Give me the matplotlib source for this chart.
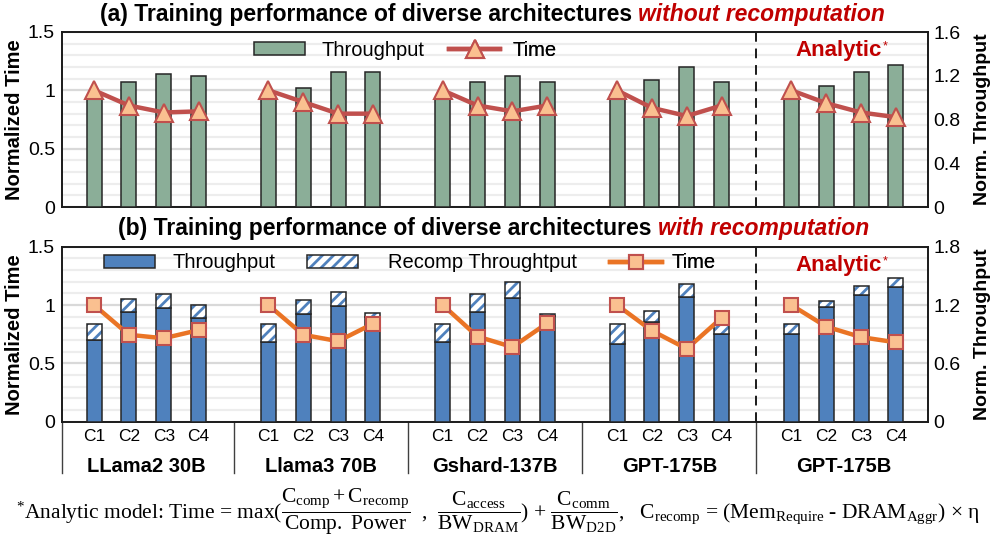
import matplotlib
matplotlib.use('Agg')
import matplotlib.pyplot as plt
import numpy as np
from matplotlib.patches import Patch
from matplotlib.lines import Line2D
from matplotlib.ticker import MultipleLocator, FixedLocator, FixedFormatter
import matplotlib.transforms as mtransforms

plt.rcParams['font.family'] = ['Liberation Sans', 'DejaVu Sans']
plt.rcParams['hatch.linewidth'] = 2.0
plt.rcParams['mathtext.fontset'] = 'custom'
plt.rcParams['mathtext.rm'] = 'Liberation Serif'
plt.rcParams['mathtext.it'] = 'Liberation Serif:italic'
plt.rcParams['mathtext.bf'] = 'Liberation Serif:bold'

# ---------------- data ----------------
models = ['LLama2 30B', 'Llama3 70B', 'Gshard-137B', 'GPT-175B', 'GPT-175B']
configs = ['C1', 'C2', 'C3', 'C4']

# (a) without recomputation
tp_a = [[1.00, 1.14, 1.22, 1.20],
        [1.00, 1.085, 1.23, 1.23],
        [1.00, 1.14, 1.20, 1.14],
        [1.02, 1.16, 1.28, 1.14],
        [1.00, 1.11, 1.23, 1.295]]
time_a = [[1.00, 0.87, 0.81, 0.82],
          [1.00, 0.90, 0.80, 0.80],
          [1.00, 0.87, 0.82, 0.87],
          [1.00, 0.85, 0.78, 0.87],
          [1.00, 0.89, 0.81, 0.77]]

# (b) with recomputation
tp_b = [[0.84, 1.13, 1.165, 1.07],
        [0.82, 1.105, 1.19, 1.074],
        [0.815, 1.13, 1.27, 1.085],
        [0.795, 1.03, 1.285, 0.90],
        [0.90, 1.175, 1.30, 1.39]]
recomp_b = [[0.16, 0.13, 0.15, 0.135],
            [0.18, 0.145, 0.14, 0.047],
            [0.185, 0.185, 0.17, 0.02],
            [0.205, 0.11, 0.135, 0.10],
            [0.10, 0.065, 0.095, 0.09]]
time_b = [[1.00, 0.745, 0.715, 0.785],
          [1.00, 0.745, 0.69, 0.84],
          [1.00, 0.73, 0.64, 0.845],
          [1.00, 0.78, 0.625, 0.89],
          [1.00, 0.815, 0.725, 0.68]]

left_ticks = [0, 0.5, 1, 1.5]
left_labels = ['0', '0.5', '1', '1.5']
right_ticks_a = [0, 0.4, 0.8, 1.2, 1.6]
right_labels_a = ['0', '0.4', '0.8', '1.2', '1.6']
right_ticks_b = [0, 0.6, 1.2, 1.8]
right_labels_b = ['0', '0.6', '1.2', '1.8']

# ---------------- style ----------------
GREEN = '#8BAE98'
BLUE = '#4F81BD'
EDGE = '#262626'
RED_LINE = '#C0504D'
ORANGE_LINE = '#EA7425'
MARK_FACE = '#FAC090'
TITLE_RED = '#C00000'
FS = 14

fig = plt.figure(figsize=(9.96, 5.38), dpi=100)
W, H = 996.0, 538.0
ax_left, ax_right = 62, 928
panels = [(32, 207), (246.7, 421.7)]

ngroups = len(models)
xs = [[g * 5 + c for c in range(len(configs))] for g in range(ngroups)]
xs_flat = np.array(xs).ravel()
xlim = (-0.92, 23.92)
bw = 0.43


def make_axes(top, bot):
    rect = [ax_left / W, 1 - bot / H, (ax_right - ax_left) / W, (bot - top) / H]
    ax_t = fig.add_axes(rect)
    ax_b = ax_t.twinx()
    ax_l = ax_t.twinx()
    for a in (ax_t, ax_b, ax_l):
        a.set_xlim(*xlim)
        a.tick_params(axis='both', length=0)
        a.set_xticks([])
    ax_t.set_ylim(0, 1.5)
    ax_l.set_ylim(0, 1.5)
    ax_t.yaxis.set_major_locator(FixedLocator(left_ticks))
    ax_t.yaxis.set_major_formatter(FixedFormatter(left_labels))
    ax_t.yaxis.set_minor_locator(MultipleLocator(0.1))
    ax_t.tick_params(axis='y', which='both', length=0, labelsize=FS, pad=5)
    ax_t.grid(True, axis='y', which='major', color='#D9D9D9', lw=1.6, zorder=0)
    ax_t.grid(True, axis='y', which='minor', color='#EDEDED', lw=1.6, zorder=0)
    ax_t.set_axisbelow(True)
    ax_l.set_yticks([])
    for s in ax_l.spines.values():
        s.set_visible(False)
    for s in ax_b.spines.values():
        s.set_visible(False)
    for s in ax_t.spines.values():
        s.set_color('#1a1a1a')
        s.set_linewidth(1.4)
    ax_b.tick_params(axis='y', length=0, labelsize=FS, pad=4)
    return ax_t, ax_b, ax_l


# ---------------- panel (a) ----------------
axa_t, axa_b, axa_l = make_axes(*panels[0])
axa_b.set_ylim(0, 1.6)
axa_b.yaxis.set_major_locator(FixedLocator(right_ticks_a))
axa_b.yaxis.set_major_formatter(FixedFormatter(right_labels_a))
axa_b.bar(xs_flat, np.array(tp_a).ravel(), width=bw, color=GREEN,
          edgecolor=EDGE, linewidth=1.1, zorder=2)
axa_b.axvline(19, color='#1a1a1a', lw=1.4, ls=(0, (5, 3.5)), zorder=3)
for g in range(ngroups):
    axa_l.plot(xs[g], time_a[g], color=RED_LINE, lw=3.2, marker='^', ms=13,
               mfc=MARK_FACE, mec=RED_LINE, mew=1.5, zorder=4, clip_on=False)

# ---------------- panel (b) ----------------
axb_t, axb_b, axb_l = make_axes(*panels[1])
axb_b.set_ylim(0, 1.8)
axb_b.yaxis.set_major_locator(FixedLocator(right_ticks_b))
axb_b.yaxis.set_major_formatter(FixedFormatter(right_labels_b))
tpb = np.array(tp_b).ravel()
rcb = np.array(recomp_b).ravel()
axb_b.bar(xs_flat, tpb, width=bw, color=BLUE, edgecolor=EDGE, linewidth=1.1, zorder=2)
axb_b.bar(xs_flat, rcb, bottom=tpb, width=bw, color='white', edgecolor=BLUE,
          hatch='///', linewidth=0, zorder=2)
axb_b.bar(xs_flat, rcb, bottom=tpb, width=bw, fill=False, edgecolor=EDGE,
          linewidth=1.1, zorder=2.1)
axb_b.axvline(19, color='#1a1a1a', lw=1.4, ls=(0, (5, 3.5)), zorder=3)
for g in range(ngroups):
    axb_l.plot(xs[g], time_b[g], color=ORANGE_LINE, lw=3.2, marker='s', ms=10,
               mfc=MARK_FACE, mec=RED_LINE, mew=1.5, zorder=4, clip_on=False)

# category labels and group separators
trans = mtransforms.blended_transform_factory(axb_t.transData, axb_t.transAxes)
for g in range(ngroups):
    for c in range(len(configs)):
        axb_t.text(xs[g][c], -0.086, configs[c], transform=trans, ha='center',
                   va='center', fontsize=12.5)
    axb_t.text(np.mean(xs[g]), -0.257, models[g], transform=trans, ha='center',
               va='center', fontsize=14.5, fontweight='bold')
for sx in [xlim[0], 4, 9, 14, 19]:
    axb_t.plot([sx, sx], [0, -0.293], transform=trans, color='#404040', lw=1.0,
               clip_on=False)

# ---------------- legends ----------------
def place_legend(ax, handle, label, x, y, pad):
    leg = ax.legend([handle], [label], loc='center left', bbox_to_anchor=(x, y),
                    frameon=False, fontsize=14.5, handlelength=2.55,
                    handleheight=0.65, handletextpad=pad, borderaxespad=0,
                    borderpad=0)
    ax.add_artist(leg)

place_legend(axa_l, Patch(facecolor=GREEN, edgecolor=EDGE, lw=1.1), 'Throughput',
             0.2217, 0.897, 0.8)
place_legend(axa_l, Line2D([], [], color=RED_LINE, lw=3.2, marker='^', ms=13,
                           mfc=MARK_FACE, mec=RED_LINE, mew=1.5), 'Time',
             0.447, 0.897, 0.6)
place_legend(axb_l, Patch(facecolor=BLUE, edgecolor=EDGE, lw=1.1), 'Throughput',
             0.0485, 0.907, 0.85)
place_legend(axb_l, (Patch(facecolor='white', edgecolor=BLUE, hatch='///', lw=0),
                     Patch(fill=False, edgecolor=EDGE, lw=1.1)),
             'Recomp Throughtput', 0.283, 0.907, 1.45)
place_legend(axb_l, Line2D([], [], color=ORANGE_LINE, lw=3.2, marker='s', ms=10,
                           mfc=MARK_FACE, mec=RED_LINE, mew=1.5), 'Time',
             0.633, 0.907, 0.5)

# ---------------- analytic labels ----------------
for ax, yy in [(axa_l, (207 - 50) / 175), (axb_l, (421.7 - 265) / 175)]:
    t = ax.text((795 - ax_left) / (ax_right - ax_left), yy, 'Analytic',
                transform=ax.transAxes, ha='left', va='center', color=TITLE_RED,
                fontsize=16, fontweight='bold')
    ax.annotate('*', xy=(1, 1), xycoords=t, xytext=(1, -1),
                textcoords='offset points', ha='left', va='top',
                color=TITLE_RED, fontsize=9)

# ---------------- titles ----------------
TFS = 16.5
t1 = fig.text(100 / W, 1 - 14 / H, '(a) Training performance of diverse architectures ',
              ha='left', va='center', fontsize=TFS, fontweight='bold')
axa_l.annotate('without recomputation', xy=(1, 0), xycoords=t1, ha='left',
               va='bottom', fontsize=TFS, fontweight='bold', style='italic',
               color=TITLE_RED, annotation_clip=False)
t2 = fig.text(118 / W, 1 - 228.5 / H, '(b) Training performance of diverse architectures ',
              ha='left', va='center', fontsize=TFS, fontweight='bold')
axb_l.annotate('with recomputation', xy=(1, 0), xycoords=t2, ha='left',
               va='bottom', fontsize=TFS, fontweight='bold', style='italic',
               color=TITLE_RED, annotation_clip=False)

# ---------------- axis labels ----------------
for ycen in [(32 + 207) / 2, (246.7 + 421.7) / 2]:
    fig.text(15 / W, 1 - ycen / H, 'Normalized Time', rotation=90, ha='center',
             va='center', fontsize=14.5, fontweight='bold')
    fig.text(982 / W, 1 - ycen / H, 'Norm. Throughput', rotation=90, ha='center',
             va='center', fontsize=14, fontweight='bold')

# ---------------- formula ----------------
formula = (r'$^{*}$Analytic model: Time = max('
           r'$\dfrac{\mathrm{C_{comp}} + \mathrm{C_{recomp}}}{\mathrm{Comp.}\ \mathrm{Power}}$'
           r'  ,  $\dfrac{\mathrm{C_{access}}}{\mathrm{BW_{DRAM}}}$) + '
           r'$\dfrac{\mathrm{C_{comm}}}{\mathrm{BW_{D2D}}}$,   '
           r'C$_{\mathrm{recomp}}$ = (Mem$_{\mathrm{Require}}$ - DRAM$_{\mathrm{Aggr}}$) × η')
fig.text(498 / W, 1 - 512 / H, formula, ha='center', va='center', fontsize=15.5,
         family=['Liberation Serif', 'DejaVu Serif'])

fig.savefig('out.png', dpi=100)
